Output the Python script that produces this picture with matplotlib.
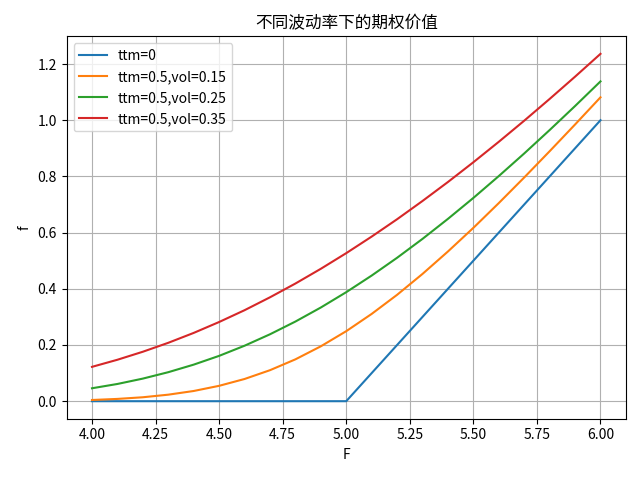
import matplotlib
matplotlib.use('Agg')
import matplotlib.pyplot as plt

plt.rcParams['font.family'] = ['Noto Sans CJK SC', 'DejaVu Sans']
plt.rcParams['axes.unicode_minus'] = False

# forward price grid
F = [4.0, 4.1, 4.2, 4.3, 4.4, 4.5, 4.6, 4.7, 4.8, 4.9, 5.0,
     5.1, 5.2, 5.3, 5.4, 5.5, 5.6, 5.7, 5.8, 5.9, 6.0]

# option values
f_ttm0 = [0.0, 0.0, 0.0, 0.0, 0.0, 0.0, 0.0, 0.0, 0.0, 0.0, 0.0,
          0.1, 0.2, 0.3, 0.4, 0.5, 0.6, 0.7, 0.8, 0.9, 1.0]
f_vol15 = [0.0043, 0.0081, 0.0140, 0.0232, 0.0363, 0.0547, 0.0790, 0.1103, 0.1489, 0.1953, 0.2492,
           0.3106, 0.3786, 0.4530, 0.5328, 0.6169, 0.7051, 0.7962, 0.8896, 0.9848, 1.0815]
f_vol25 = [0.0460, 0.0613, 0.0804, 0.1032, 0.1301, 0.1613, 0.1974, 0.2381, 0.2834, 0.3334, 0.3880,
           0.4471, 0.5104, 0.5777, 0.6489, 0.7234, 0.8012, 0.8817, 0.9650, 1.0505, 1.1382]
f_vol35 = [0.1222, 0.1475, 0.1760, 0.2078, 0.2430, 0.2818, 0.3238, 0.3697, 0.4187, 0.4712, 0.5269,
           0.5858, 0.6476, 0.7126, 0.7801, 0.8504, 0.9232, 0.9983, 1.0757, 1.1550, 1.2362]

labels = ['ttm=0', 'ttm=0.5,vol=0.15', 'ttm=0.5,vol=0.25', 'ttm=0.5,vol=0.35']

fig, ax = plt.subplots(figsize=(6.4, 4.8), dpi=100)
for vals, lab in zip([f_ttm0, f_vol15, f_vol25, f_vol35], labels):
    ax.plot(F, vals, label=lab)

ax.set_title('不同波动率下的期权价值')
ax.set_xlabel('F')
ax.set_ylabel('f')
ax.grid(True)
ax.legend(loc='upper left')
fig.subplots_adjust(left=0.104, right=0.978, bottom=0.128, top=0.924)
fig.savefig('out.png')
